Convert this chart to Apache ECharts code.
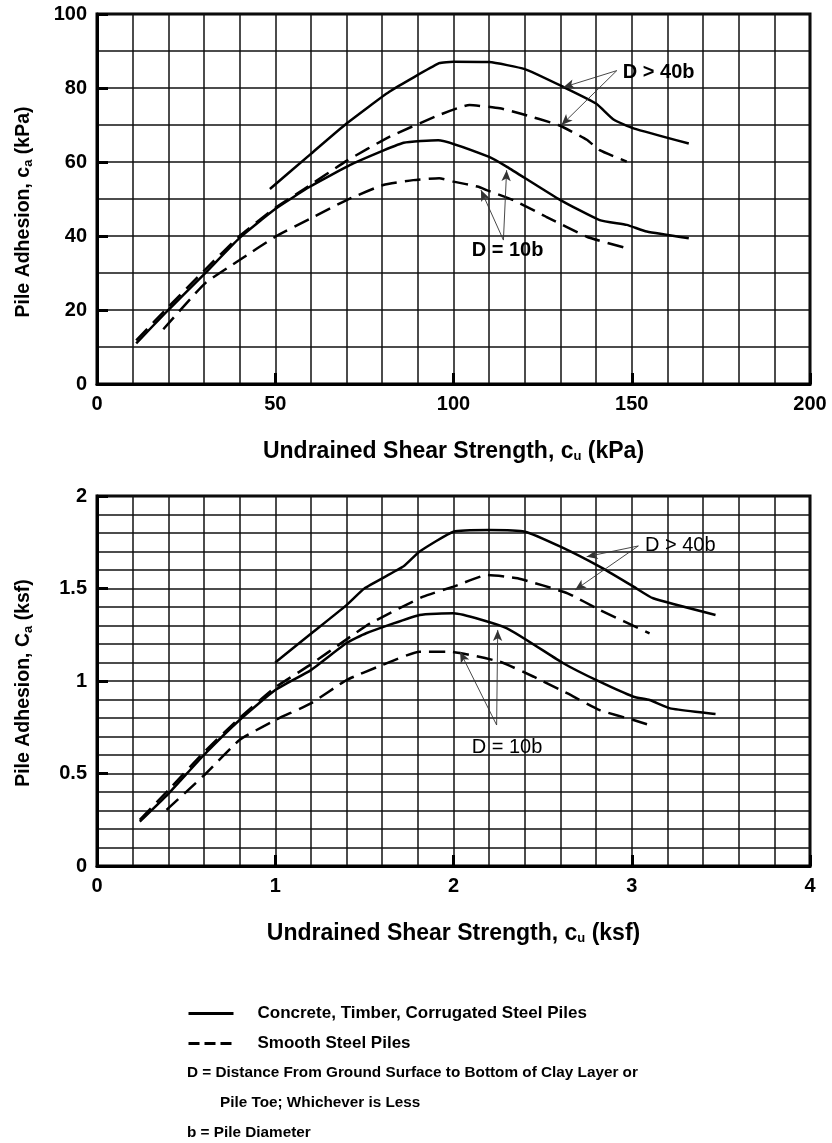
<!DOCTYPE html>
<html>
<head>
<meta charset="utf-8">
<title>Pile Adhesion vs Undrained Shear Strength</title>
<script src="https://cdn.jsdelivr.net/npm/echarts@6.0.0/dist/echarts.min.js"></script>
<style>
  html, body { margin: 0; padding: 0; background: #fff; }
  #chart { width: 832px; height: 1143px; }
</style>
</head>
<body>
<div id="chart"></div>
<script>
// ---- Metric chart (kPa): [cu, ca] pairs ----
const kpaSolid40 = [[48.5, 52.7], [60, 62.2], [70, 70.4], [82, 79], [96, 86.7], [100, 87.1], [110, 87], [120, 85.1], [131, 80.2], [140, 75.8], [145, 71.4], [150.5, 69.1], [166, 65]];
const kpaDashed40 = [[11, 11.8], [20, 20.8], [30, 30.6], [40, 40], [50, 47.6], [58, 52.6], [70, 60.3], [82, 66.8], [96, 72.7], [104.5, 75.4], [113, 74.5], [118.7, 73.1], [129.4, 70], [137.4, 66], [141, 63.2], [148.6, 60.1]];
const kpaSolid10 = [[11, 11], [20, 20], [30.3, 29.9], [40, 39.5], [50, 47.3], [59.7, 53.3], [71.9, 59.6], [86, 65.2], [95.7, 65.9], [110, 61.4], [115, 58.7], [130, 49.7], [141, 44.3], [148.6, 43], [154.2, 41.2], [166, 39.4]];
const kpaDashed10 = [[18.6, 14.8], [30.3, 27.2], [40, 33.5], [50, 39.8], [60, 44.8], [70, 49.7], [80.3, 53.8], [88.7, 55.1], [96, 55.6], [100, 54.7], [107, 53.3], [109.3, 52.4], [116.8, 49.7], [126, 45.2], [137.4, 39.8], [148.6, 36.7]];

// ---- Imperial chart (ksf): [cu, Ca] pairs ----
const ksfSolid40 = [[1.0, 1.1], [1.2, 1.255], [1.4, 1.41], [1.5, 1.5], [1.72, 1.62], [1.81, 1.70], [2.0, 1.807], [2.2, 1.816], [2.4, 1.807], [2.6, 1.726], [2.82, 1.618], [3.01, 1.51], [3.12, 1.447], [3.47, 1.357]];
const ksfDashed40 = [[0.24, 0.25], [0.4, 0.41], [0.6, 0.615], [0.8, 0.80], [1.0, 0.965], [1.2, 1.09], [1.4, 1.225], [1.53, 1.31], [1.83, 1.456], [2.0, 1.51], [2.19, 1.573], [2.36, 1.555], [2.64, 1.474], [2.82, 1.384], [3.1, 1.258]];
const ksfSolid10 = [[0.24, 0.24], [0.4, 0.39], [0.6, 0.60], [0.8, 0.789], [1.0, 0.951], [1.2, 1.059], [1.4, 1.205], [1.51, 1.258], [1.81, 1.357], [2.0, 1.366], [2.3, 1.285], [2.616, 1.096], [2.82, 0.996], [3.01, 0.915], [3.1, 0.897], [3.215, 0.852], [3.47, 0.822]];
const ksfDashed10 = [[0.39, 0.303], [0.6, 0.49], [0.8, 0.681], [1.0, 0.789], [1.2, 0.879], [1.4, 1.005], [1.6, 1.086], [1.81, 1.158], [1.98, 1.158], [2.26, 1.104], [2.45, 1.023], [2.64, 0.933], [2.82, 0.843], [3.01, 0.789], [3.1, 0.762]];

// ---- Axis label values ----
const kpaXLabels = [0, 50, 100, 150, 200];
const kpaYLabels = [0, 20, 40, 60, 80, 100];
const ksfXLabels = [0, 1, 2, 3, 4];
const ksfYLabels = [0, 0.5, 1, 1.5, 2];

// ---- Series names and notes ----
const nameSolid = 'Concrete, Timber, Corrugated Steel Piles';
const nameDashed = 'Smooth Steel Piles';
const notes = [
  'D = Distance From Ground Surface to Bottom of Clay Layer or',
  'Pile Toe; Whichever is Less',
  'b = Pile Diameter'
];

const FONT = 'Liberation Sans, Arial, Helvetica, sans-serif';
const DASH = [16, 8];

const chart = echarts.init(document.getElementById('chart'), null, { renderer: 'canvas' });

function subRich(size) {
  return {
    sub: { fontSize: size, fontWeight: 'bold', fontFamily: FONT, color: '#000', verticalAlign: 'bottom', padding: [10, 0, 0, 0] }
  };
}

const labelStyle = { fontSize: 20, fontWeight: 'bold', color: '#000', fontFamily: FONT };

// Gridded axis: fine split lines every interval, labels only at the listed values
function gridAxis(gridIndex, max, interval, labels, name, nameGap, nameSize, namePad) {
  return {
    gridIndex, type: 'value', min: 0, max, interval,
    axisLine: { show: true, onZero: false, lineStyle: { color: '#000', width: 3 } },
    axisTick: { show: false },
    axisLabel: Object.assign({ customValues: labels, margin: 10 }, labelStyle),
    splitLine: { show: true, lineStyle: { color: '#111', width: 1.5 } },
    name, nameLocation: 'middle', nameGap,
    nameTextStyle: { fontSize: nameSize, fontWeight: 'bold', color: '#000', fontFamily: FONT, padding: namePad || 0, rich: subRich(13) }
  };
}

// Companion axis carrying only the heavy inward tick marks
function tickAxis(gridIndex, max, step, position) {
  return {
    gridIndex, type: 'value', min: 0, max, interval: step, position, offset: 0,
    axisLine: { show: false },
    axisTick: { show: true, inside: true, length: 11, lineStyle: { color: '#000', width: 3 } },
    axisLabel: { show: false },
    splitLine: { show: false }
  };
}

function curve(name, data, gi, dashed, extra) {
  return Object.assign({
    name, type: 'line', xAxisIndex: gi, yAxisIndex: gi, data,
    showSymbol: false, symbol: 'none', smooth: 0.15, silent: true,
    lineStyle: { color: '#000', width: 2.5, type: dashed ? DASH : 'solid' },
    itemStyle: { color: '#000' },
    emphasis: { disabled: true }
  }, extra || {});
}

function arrows(pairs) {
  return {
    silent: true, animation: false,
    symbol: ['none', 'arrow'], symbolSize: [7, 11],
    lineStyle: { color: '#333', width: 0.9, type: 'solid' },
    label: { show: false },
    emphasis: { disabled: true },
    data: pairs.map(p => [{ coord: p[0] }, { coord: p[1] }])
  };
}

function tags(items, bold) {
  return {
    silent: true, animation: false,
    symbol: 'circle', symbolSize: 0,
    label: { show: true, position: 'right', distance: 0, formatter: '{b}', fontSize: 20, fontWeight: bold ? 'bold' : 'normal', color: '#000', fontFamily: FONT },
    emphasis: { disabled: true },
    data: items.map(t => ({ name: t[0], coord: t[1] }))
  };
}

const option = {
  animation: false,
  backgroundColor: '#fff',
  textStyle: { fontFamily: FONT },
  grid: [
    { left: 97, top: 14, width: 713, height: 370, show: true, borderColor: '#000', borderWidth: 3, backgroundColor: '#fff' },
    { left: 97, top: 496, width: 713, height: 370, show: true, borderColor: '#000', borderWidth: 3, backgroundColor: '#fff' }
  ],
  xAxis: [
    gridAxis(0, 200, 10, kpaXLabels, 'Undrained Shear Strength, c{sub|u} (kPa)', 56, 23),
    gridAxis(1, 4, 0.2, ksfXLabels, 'Undrained Shear Strength, c{sub|u} (ksf)', 56, 23),
    tickAxis(0, 200, 50, 'bottom'),
    tickAxis(1, 4, 1, 'bottom')
  ],
  yAxis: [
    gridAxis(0, 100, 10, kpaYLabels, 'Pile Adhesion, c{sub|a} (kPa)', 62, 19.5, [0, 26, 0, 0]),
    gridAxis(1, 2, 0.1, ksfYLabels, 'Pile Adhesion, C{sub|a} (ksf)', 62, 19.5, [0, 4, 0, 0]),
    tickAxis(0, 100, 20, 'left'),
    tickAxis(1, 2, 0.5, 'left')
  ],
  legend: {
    show: true, orient: 'vertical', left: 187, top: 1005, padding: 0,
    itemWidth: 45, itemHeight: 14, itemGap: 13, selectedMode: false,
    itemStyle: { opacity: 0, borderWidth: 0 },
    textStyle: { fontSize: 17, fontWeight: 'bold', color: '#000', fontFamily: FONT, padding: [0, 0, 0, 19] },
    data: [
      { name: nameSolid, itemStyle: { opacity: 0 }, lineStyle: { width: 3, type: 'solid', color: '#000' } },
      { name: nameDashed, itemStyle: { opacity: 0 }, lineStyle: { width: 3, type: [11, 5], color: '#000' } }
    ]
  },
  graphic: [
    { type: 'text', left: 187, top: 1065, silent: true, style: { text: notes[0], font: 'bold 15.3px ' + FONT, fill: '#000' } },
    { type: 'text', left: 220, top: 1095, silent: true, style: { text: notes[1], font: 'bold 15.3px ' + FONT, fill: '#000' } },
    { type: 'text', left: 187, top: 1125, silent: true, style: { text: notes[2], font: 'bold 15.3px ' + FONT, fill: '#000' } }
  ],
  series: [
    curve(nameSolid, kpaSolid40, 0, false, {
      markLine: arrows([
        [[145.8, 84.7], [130.8, 80.2]],
        [[145.8, 84.7], [130.3, 70]],
        [[114, 38.9], [107.7, 52.4]],
        [[114, 38.9], [114.9, 57.8]]
      ]),
      markPoint: tags([['D > 40b', [147.5, 84.3]], ['D = 10b', [105.1, 36.2]]], true)
    }),
    curve(nameDashed, kpaDashed40, 0, true),
    curve(nameSolid, kpaSolid10, 0, false),
    curve(nameDashed, kpaDashed10, 0, true),
    curve(nameSolid, ksfSolid40, 1, false, {
      markLine: arrows([
        [[3.037, 1.73], [2.747, 1.672]],
        [[3.037, 1.73], [2.682, 1.492]],
        [[2.242, 0.762], [2.037, 1.158]],
        [[2.242, 0.762], [2.248, 1.276]]
      ]),
      markPoint: tags([['D > 40b', [3.074, 1.735]], ['D = 10b', [2.102, 0.638]]], false)
    }),
    curve(nameDashed, ksfDashed40, 1, true),
    curve(nameSolid, ksfSolid10, 1, false),
    curve(nameDashed, ksfDashed10, 1, true)
  ]
};

chart.setOption(option);
</script>
</body>
</html>
